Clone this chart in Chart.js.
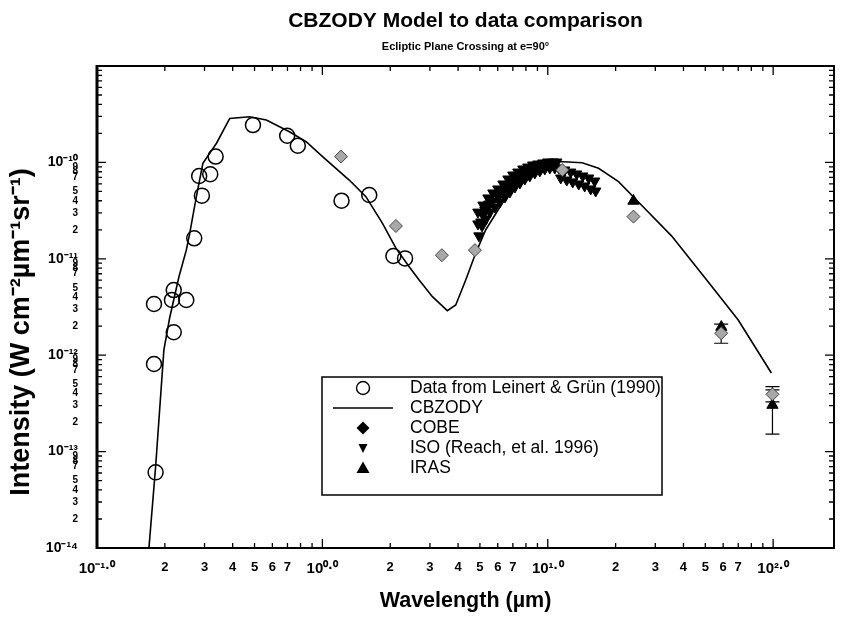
<!DOCTYPE html>
<html>
<head>
<meta charset="utf-8">
<script src="https://cdn.jsdelivr.net/npm/chart.js@4.4.1/dist/chart.umd.min.js"></script>
<style>
html,body{margin:0;padding:0;background:#fff;}
canvas{display:block;}
</style>
</head>
<body>
<canvas id="c" width="843" height="622"></canvas>
<script>
// ---------------- data ----------------
const leinertWavelength = [0.179,0.179,0.182,0.219,0.215,0.249,0.219,0.270,0.292,0.284,0.318,0.336,0.492,0.698,0.778,1.216,1.614,2.066,2.327];
const leinertIntensity  = [3.40e-12,8.11e-13,6.09e-14,4.74e-12,3.74e-12,3.74e-12,1.73e-12,1.63e-11,4.52e-11,7.23e-11,7.53e-11,1.15e-10,2.44e-10,1.89e-10,1.49e-10,4.01e-11,4.59e-11,1.07e-11,1.01e-11];

const cbzodyWavelength = [0.170,0.182,0.198,0.210,0.231,0.249,0.258,0.276,0.295,0.339,0.388,0.475,0.564,0.714,0.847,1.002,1.315,1.560,1.848,2.119,2.427,2.687,3.077,3.584,3.906,4.325,4.786,5.300,6.28,7.45,8.83,11.19,14.2,16.8,20.6,25.5,35.4,49.9,70.0,98.2];
const cbzodyIntensity  = [1.0e-14,6.97e-14,1.13e-12,2.43e-12,6.52e-12,1.23e-11,1.85e-11,4.41e-11,9.80e-11,1.58e-10,2.86e-10,2.98e-10,2.75e-10,2.08e-10,1.64e-10,1.15e-10,6.56e-11,4.41e-11,2.33e-11,1.29e-11,8.28e-12,6.03e-12,4.05e-12,2.90e-12,3.32e-12,6.03e-12,1.14e-11,1.99e-11,3.77e-11,6.56e-11,9.02e-11,1.02e-10,9.93e-11,8.69e-11,6.31e-11,3.79e-11,1.73e-11,6.32e-12,2.32e-12,6.53e-13];

const cobeWavelength = [1.21,2.12,3.39,4.75,11.6,24.0,58.8,99.3];
const cobeIntensity  = [1.15e-10,2.19e-11,1.09e-11,1.23e-11,8.34e-11,2.74e-11,1.69e-12,3.93e-13];

const isoWavelength = [4.90,5.16,5.43,5.71,6.01,6.33,6.66,7.00,7.37,7.76,8.16,8.58,9.03,9.50,10.0,10.52,10.96,
  4.95,5.11,5.32,5.54,5.83,6.13,6.46,6.79,7.15,7.52,7.91,8.32,8.76,9.22,9.70,10.21,10.74,
  5.05,5.26,5.48,6.07,6.46,6.86,7.30,
  4.90,5.16,5.43,5.71,6.01,6.33,6.66,7.00,7.37,7.76,8.16,8.58,9.03,9.50,10.0,10.52,
  11.19,11.89,12.64,13.44,14.29,15.19,16.15,
  11.42,12.14,12.90,13.72,14.58,15.50,16.31];
const isoIntensity = [3.05e-11,3.61e-11,4.28e-11,4.82e-11,5.30e-11,5.97e-11,6.73e-11,7.40e-11,7.94e-11,8.55e-11,8.95e-11,9.40e-11,9.62e-11,9.86e-11,1.01e-10,1.01e-10,1.01e-10,
  1.73e-11,2.19e-11,2.59e-11,3.05e-11,3.44e-11,3.88e-11,4.38e-11,4.93e-11,5.56e-11,6.11e-11,6.73e-11,7.23e-11,7.76e-11,8.15e-11,8.55e-11,8.75e-11,8.75e-11,
  2.41e-11,3.21e-11,3.70e-11,4.48e-11,5.18e-11,5.97e-11,6.73e-11,
  2.30e-11,2.84e-11,3.44e-11,3.98e-11,4.48e-11,5.05e-11,5.69e-11,6.27e-11,6.89e-11,7.40e-11,7.94e-11,8.34e-11,8.75e-11,9.19e-11,9.40e-11,9.40e-11,
  8.75e-11,8.34e-11,7.94e-11,7.59e-11,7.23e-11,6.89e-11,6.41e-11,
  6.89e-11,6.56e-11,6.27e-11,5.97e-11,5.69e-11,5.30e-11,5.05e-11];

const irasWavelength = [24.0,58.9,99.3];
const irasIntensity  = [3.98e-11,1.96e-12,3.04e-13];

const errorWavelength = [58.8,99.3,99.3];
const errorLow        = [1.33e-12,3.28e-13,1.52e-13];
const errorHigh       = [2.10e-12,4.71e-13,4.36e-13];

const xTickLabels  = ['10⁻¹·⁰','10⁰·⁰','10¹·⁰','10²·⁰'];
const xMinorLabels = ['2','3','4','5','6','7'];
const yTickLabels  = ['10⁻¹⁴','10⁻¹³','10⁻¹²','10⁻¹¹','10⁻¹⁰'];
const yMinorLabels = ['2','3','4','5','7','8','9'];
const legendLabels = ['Data from Leinert & Grün (1990)','CBZODY','COBE','ISO (Reach, et al. 1996)','IRAS'];

const titleText    = 'CBZODY Model to data comparison';
const subtitleText = 'Ecliptic Plane Crossing at e=90°';
const xTitleText   = 'Wavelength (µm)';
const yTitleText   = 'Intensity (W cm⁻²µm⁻¹sr⁻¹)';

// ---------------- helpers ----------------
const SANS = "'Liberation Sans', Arial, sans-serif";
const pts = (xs, ys) => xs.map((x, i) => ({x: x, y: ys[i]}));
function decomp(v) {
  const e = Math.floor(Math.log10(v) + 1e-9);
  const m = Math.round(v / Math.pow(10, e));
  return {e, m};
}
function logTicks(minExp, maxVal) {
  const out = [];
  for (let e = minExp; Math.pow(10, e) <= maxVal * 1.0001; e++) {
    for (let m = 1; m <= 9; m++) {
      const v = m * Math.pow(10, e);
      if (v <= maxVal * 1.0001) out.push({value: v, major: m === 1});
    }
  }
  return out;
}

Chart.defaults.color = '#000';
Chart.defaults.font.family = SANS;

// inward tick marks + frame
const framePlugin = {
  id: 'frame',
  afterDatasetsDraw(chart) {
    const {ctx, chartArea: a, scales} = chart;
    ctx.save();
    ctx.strokeStyle = '#000';
    ctx.lineWidth = 1.3;
    ctx.beginPath();
    scales.x.ticks.forEach(t => {
      const px = scales.x.getPixelForValue(t.value);
      const len = t.major ? 9 : 5;
      ctx.moveTo(px, a.bottom); ctx.lineTo(px, a.bottom - len);
      ctx.moveTo(px, a.top); ctx.lineTo(px, a.top + len);
    });
    scales.y.ticks.forEach(t => {
      const py = scales.y.getPixelForValue(t.value);
      const len = t.major ? 9 : 5;
      ctx.moveTo(a.left, py); ctx.lineTo(a.left + len, py);
      ctx.moveTo(a.right, py); ctx.lineTo(a.right - len, py);
    });
    ctx.stroke();
    ctx.lineWidth = 2;
    ctx.strokeRect(a.left, a.top, a.right - a.left, a.bottom - a.top);
    ctx.lineWidth = 3;
    ctx.beginPath(); ctx.moveTo(a.left, a.top - 1); ctx.lineTo(a.left, a.bottom + 1); ctx.stroke();
    ctx.restore();
  }
};

// error bars
const errorPlugin = {
  id: 'errorBars',
  beforeDatasetsDraw(chart) {
    const {ctx, scales} = chart;
    ctx.save();
    ctx.strokeStyle = '#000';
    ctx.lineWidth = 1.2;
    ctx.beginPath();
    errorWavelength.forEach((w, i) => {
      const px = scales.x.getPixelForValue(w);
      const y1 = scales.y.getPixelForValue(errorHigh[i]);
      const y2 = scales.y.getPixelForValue(errorLow[i]);
      ctx.moveTo(px, y1); ctx.lineTo(px, y2);
      ctx.moveTo(px - 7, y1); ctx.lineTo(px + 7, y1);
      ctx.moveTo(px - 7, y2); ctx.lineTo(px + 7, y2);
    });
    ctx.stroke();
    ctx.restore();
  }
};

// boxed legend inside the plot + rotated y title
const legendPlugin = {
  id: 'boxLegend',
  afterDraw(chart) {
    const ctx = chart.ctx;
    const a = chart.chartArea;
    const bx = a.left + 225, by = a.top + 311, bw = 340, bh = 118;
    ctx.save();
    ctx.fillStyle = '#fff';
    ctx.fillRect(bx, by, bw, bh);
    ctx.strokeStyle = '#000';
    ctx.lineWidth = 1.5;
    ctx.strokeRect(bx, by, bw, bh);
    const sx = bx + 41, tx = bx + 88;
    const rowY = [by + 11, by + 31, by + 51, by + 71, by + 91];
    ctx.fillStyle = '#000';
    ctx.font = '17.5px ' + SANS;
    ctx.textBaseline = 'middle';
    ctx.textAlign = 'left';
    legendLabels.forEach((t, i) => ctx.fillText(t, tx, rowY[i]));
    // symbols
    ctx.lineWidth = 1.4;
    ctx.beginPath(); ctx.arc(sx, rowY[0], 6.5, 0, Math.PI * 2); ctx.stroke();
    ctx.beginPath(); ctx.moveTo(sx - 30, rowY[1]); ctx.lineTo(sx + 30, rowY[1]); ctx.stroke();
    ctx.beginPath(); ctx.moveTo(sx, rowY[2] - 6.5); ctx.lineTo(sx + 6.5, rowY[2]); ctx.lineTo(sx, rowY[2] + 6.5); ctx.lineTo(sx - 6.5, rowY[2]); ctx.closePath(); ctx.fill();
    ctx.beginPath(); ctx.moveTo(sx - 4.5, rowY[3] - 4); ctx.lineTo(sx + 4.5, rowY[3] - 4); ctx.lineTo(sx, rowY[3] + 5); ctx.closePath(); ctx.fill();
    ctx.beginPath(); ctx.moveTo(sx - 6.5, rowY[4] + 5); ctx.lineTo(sx + 6.5, rowY[4] + 5); ctx.lineTo(sx, rowY[4] - 6.5); ctx.closePath(); ctx.fill();
    // y axis title
    ctx.translate(22, (a.top + a.bottom) / 2 + 25);
    ctx.rotate(-Math.PI / 2);
    ctx.textAlign = 'center';
    ctx.font = 'bold 27px ' + SANS;
    ctx.fillText(yTitleText, 0, 0);
    ctx.restore();
  }
};

const ctx = document.getElementById('c').getContext('2d');
new Chart(ctx, {
  type: 'scatter',
  data: {
    datasets: [
      { label: 'COBE', data: pts(cobeWavelength, cobeIntensity), pointStyle: 'rectRot', pointRadius: 6.5,
        pointBackgroundColor: '#a8a8a8', pointBorderColor: '#444', pointBorderWidth: 1 },
      { label: 'IRAS', data: pts(irasWavelength, irasIntensity), pointStyle: 'triangle', pointRadius: 6.5,
        pointBackgroundColor: '#000', pointBorderColor: '#000', pointBorderWidth: 1 },
      { label: 'ISO', data: pts(isoWavelength, isoIntensity), pointStyle: 'triangle', pointRotation: 180, pointRadius: 6,
        pointBackgroundColor: '#000', pointBorderColor: '#000', pointBorderWidth: 1 },
      { label: 'Leinert', data: pts(leinertWavelength, leinertIntensity), pointStyle: 'circle', pointRadius: 7.5,
        pointBackgroundColor: 'rgba(0,0,0,0)', pointBorderColor: '#000', pointBorderWidth: 1.5 },
      { label: 'CBZODY', data: pts(cbzodyWavelength, cbzodyIntensity), showLine: true, pointRadius: 0,
        borderColor: '#000', borderWidth: 1.6, tension: 0, fill: false }
    ]
  },
  options: {
    responsive: false,
    animation: false,
    events: [],
    layout: { padding: { left: 0, right: 7, top: 0, bottom: 0 } },
    plugins: {
      legend: { display: false },
      tooltip: { enabled: false },
      title: { display: true, text: titleText, fullSize: false, color: '#000',
        font: { family: SANS, size: 21, weight: 'bold' }, padding: { top: 8.3, bottom: 2.5 } },
      subtitle: { display: true, text: subtitleText, fullSize: false, color: '#000',
        font: { family: SANS, size: 11, weight: 'bold' }, padding: { top: 4.4, bottom: 12.4 } }
    },
    scales: {
      x: {
        type: 'logarithmic', position: 'bottom', min: 0.1, max: 186.2,
        afterBuildTicks: s => { s.ticks = logTicks(-1, 186.2); },
        afterFit: s => { s.height = 74; },
        grid: { display: false, drawTicks: false },
        border: { display: false },
        ticks: {
          autoSkip: false, maxRotation: 0, minRotation: 0, padding: 12, color: '#000',
          font: c => (c.tick && c.tick.major) ? { family: SANS, size: 15, weight: 'bold' } : { family: SANS, size: 13, weight: 'bold' },
          callback: v => { const d = decomp(v); if (d.m === 1) return xTickLabels[d.e + 1] || ''; return xMinorLabels.includes(String(d.m)) ? String(d.m) : ''; }
        },
        title: { display: true, text: xTitleText, color: '#000', font: { family: SANS, size: 21.5, weight: 'bold' }, padding: { top: 0, bottom: 8 } }
      },
      y: {
        type: 'logarithmic', position: 'left', min: 1e-14, max: 1e-9,
        afterBuildTicks: s => { s.ticks = logTicks(-14, 1e-9); },
        afterFit: s => { s.width = 97; },
        grid: { display: false, drawTicks: false },
        border: { display: false },
        ticks: {
          autoSkip: false, padding: 19, color: '#000',
          font: c => (c.tick && c.tick.major) ? { family: SANS, size: 14, weight: 'bold' } : { family: SANS, size: 10, weight: 'bold' },
          callback: v => { const d = decomp(v); if (d.m === 1) return yTickLabels[d.e + 14] || ''; return (d.e <= -11 && yMinorLabels.includes(String(d.m))) ? String(d.m) : ''; }
        }
      }
    }
  },
  plugins: [errorPlugin, framePlugin, legendPlugin]
});
</script>
</body>
</html>
